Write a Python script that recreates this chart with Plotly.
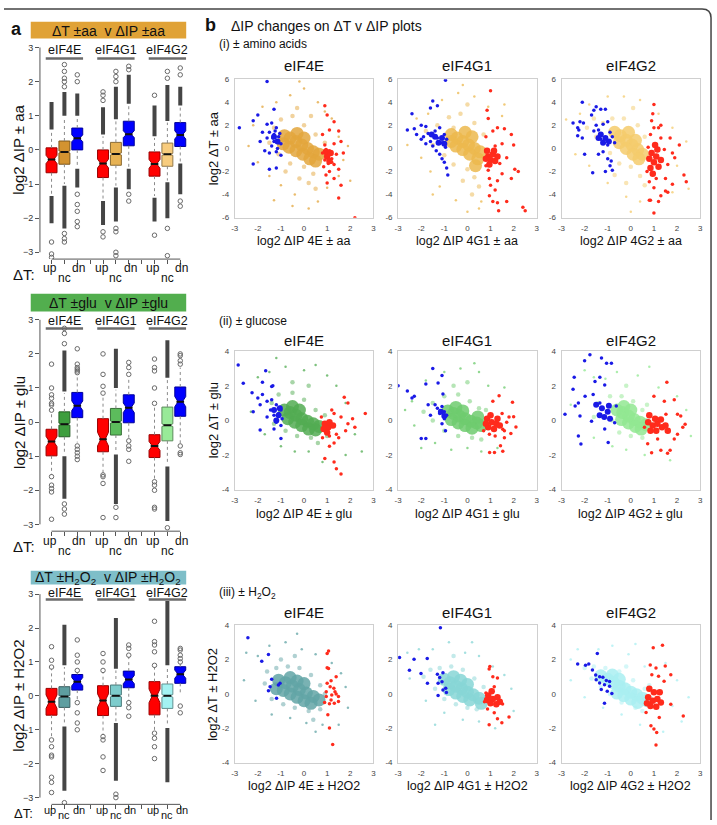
import plotly.graph_objects as go

# ------------------------------------------------------------------
# Panel a : box-plot statistics (log2 dIP), 9 boxes per condition
# order: eIF4E up,nc,dn | eIF4G1 up,nc,dn | eIF4G2 up,nc,dn
# ------------------------------------------------------------------
BOX_POS = [1, 2, 3, 5, 6, 7, 9, 10, 11]
GROUPS = ["eIF4E", "eIF4G1", "eIF4G2"]
GROUP_POS = [2, 6, 10]
Y_TICKS_A = [-3, -2, -1, 0, 1, 2, 3]

AA_Q1 = [-0.67, -0.42, 0.00, -0.81, -0.45, 0.12, -0.77, -0.48, 0.10]
AA_MED = [-0.28, -0.06, 0.34, -0.40, -0.12, 0.46, -0.41, -0.13, 0.44]
AA_Q3 = [0.06, 0.26, 0.64, 0.00, 0.22, 0.84, -0.06, 0.20, 0.80]
AA_LO = [-1.30, -1.00, -0.50, -1.45, -1.05, -0.50, -1.35, -0.90, -0.35]
AA_HI = [0.55, 0.95, 0.95, 0.40, 0.85, 1.30, 0.35, 0.80, 1.25]
AA_NOTCH = [0.12, 0.03, 0.10, 0.13, 0.03, 0.10, 0.13, 0.03, 0.12]
AA_BAND_UP = [(0.6, 1.4), (1.0, 1.7), (1.0, 1.65), (0.45, 1.25), (0.9, 1.85), (1.35, 2.2), (0.4, 1.3), (0.85, 1.9), (1.3, 1.85)]
AA_BAND_DN = [(-1.35, -2.15), (-1.05, -2.3), (-0.55, -1.1), (-1.5, -2.2), (-1.1, -2.1), (-0.55, -1.15), (-1.4, -2.1), (-0.95, -2.0), (-0.4, -1.3)]
AA_OUT = [[-2.7, -3.05, -3.15], [1.85, 2.0, 2.1, 2.3, 2.5, -2.45, -2.6, -2.7], [2.0, 2.2, -1.3, -1.6, -1.8, -2.1, -2.25],
          [1.45, 1.6, 1.7, -2.4, -2.55], [2.0, 2.15, 2.3, -2.3, -2.4, -3.0, -3.1], [2.35, 2.45, -1.3, -1.5],
          [1.6, -2.5], [2.1, 2.3, -2.3, -3.1], [2.2, 2.4, -1.5, -1.65]]

GLU_Q1 = [-0.99, -0.43, 0.13, -0.87, -0.38, -0.02, -1.04, -0.55, 0.17]
GLU_MED = [-0.57, -0.06, 0.48, -0.50, 0.00, 0.42, -0.70, -0.09, 0.60]
GLU_Q3 = [-0.21, 0.30, 0.87, 0.10, 0.40, 0.80, -0.37, 0.44, 1.03]
GLU_LO = [-1.55, -0.95, -0.60, -1.50, -0.90, -0.50, -1.70, -1.25, -0.65]
GLU_HI = [0.30, 0.85, 1.40, 0.80, 0.95, 1.25, 0.50, 1.25, 1.60]
GLU_NOTCH = [0.15, 0.03, 0.14, 0.20, 0.03, 0.14, 0.13, 0.04, 0.15]
GLU_BAND_UP = [None, (0.9, 2.1), None, None, (1.0, 2.15), None, None, (1.3, 2.4), None]
GLU_BAND_DN = [None, (-1.0, -2.25), None, None, (-0.95, -2.4), None, None, (-1.3, -2.9), None]
GLU_OUT = [[0.35, 0.5, 0.55, 0.7, 0.8, 1.0, 1.7, -1.6, -1.85, -1.95, -2.05, -2.85], [2.3, 2.6, 2.75, -2.4, -2.55, -2.7],
           [1.45, 1.5, 1.55, 1.6, 1.7, 2.15, -0.7, -0.8, -0.9, -1.0, -1.1], [0.85, 1.05, 1.4, 2.0, -1.55, -1.6, -1.8, -2.8],
           [-2.5, -2.8], [1.4, 1.6, 1.75, -0.55, -0.7, -0.8, -1.15],
           [0.55, 1.0, 1.5, 1.6, 1.85, -1.75, -1.85, -2.0, -2.5, -2.55], [-3.1], [1.7, 1.8, 1.95, 2.0, -0.7, -0.9, -0.95]]

H2_Q1 = [-0.57, -0.34, 0.17, -0.58, -0.31, 0.24, -0.56, -0.37, 0.37]
H2_MED = [-0.17, -0.02, 0.42, -0.14, 0.00, 0.48, 0.00, 0.00, 0.64]
H2_Q3 = [0.22, 0.27, 0.63, 0.30, 0.32, 0.73, 0.42, 0.35, 0.86]
H2_LO = [-1.25, -0.85, -0.15, -1.15, -0.75, -0.15, -1.05, -0.90, 0.10]
H2_HI = [0.80, 0.85, 0.70, 0.70, 0.75, 1.15, 0.85, 0.85, 0.95]
H2_NOTCH = [0.20, 0.03, 0.12, 0.20, 0.03, 0.12, 0.20, 0.04, 0.12]
H2_BAND_UP = [None, (0.9, 2.1), None, None, (0.8, 2.3), None, None, (0.9, 2.8), None]
H2_BAND_DN = [None, (-0.9, -2.8), None, None, (-0.8, -2.5), None, None, (-0.95, -2.55), None]
H2_OUT = [[0.85, 1.05, 1.45, -1.3, -1.5, -1.75, -1.8, -2.4, -2.55, -2.85], [-3.15], [0.75, 1.0, 1.2, 1.65, -0.2, -0.5, -0.8, -1.0],
          [0.75, 1.0, 1.25, -1.2, -1.3, -1.8, -2.2], [-2.9, -3.0], [1.2, 1.4, 1.5, -0.2, -0.35, -0.6],
          [0.9, 1.3, 1.5, 1.6, 2.2, -1.1, -1.25, -1.5, -1.85], [], [1.0, 1.1, 1.2, 1.35, 1.4, -0.3, -0.5]]

# ------------------------------------------------------------------
# Panel b : scatter points (x = log2 dIP, y = log2 dT), estimated
# ------------------------------------------------------------------
X_TICKS_B = [-3, -2, -1, 0, 1, 2, 3]
Y_TICKS_AA = [-6, -4, -2, 0, 2, 4, 6]
Y_TICKS_GH = [-4, -2, 0, 2, 4]

# --- amino acids ---
AA_4E_CORE = [(-0.85, 1.1), (-0.6, 0.9), (-0.35, 0.6), (-0.1, 0.3), (0.15, 0.0), (0.4, -0.3), (0.65, -0.5), (-0.65, 0.1),
              (-0.35, -0.2), (-0.05, -0.5), (-0.3, 1.3), (0.0, 0.9), (0.25, -0.9), (0.5, -1.1), (-0.9, 0.4)]
AA_4E_MID = [(-1.3, 1.8), (-1.0, 2.5), (-0.5, 2.8), (0.0, 2.0), (0.5, 1.2), (0.9, 0.5), (-1.5, 0.5), (-1.1, -0.5), (-0.6, -1.3),
             (0.0, -1.6), (0.4, -2.2), (0.2, -3.0), (0.5, -3.5), (-0.3, 3.5), (0.3, 2.8), (1.1, -1.2), (-0.8, -2.0), (-0.2, -2.6)]
AA_4E_SPARSE = [(-2.2, 2.0), (-2.0, -1.2), (-1.8, 3.6), (-1.2, 4.0), (-0.6, 4.6), (0.0, 5.2), (0.6, 4.0), (1.2, 2.6), (1.5, 1.0),
                (1.7, -1.0), (1.5, -2.4), (1.0, -3.4), (0.6, -4.6), (0.2, -5.2), (-0.4, -4.0), (-1.0, -3.2), (-1.5, -2.4),
                (-2.4, 0.2), (0.9, 3.2), (-0.2, 5.8), (1.9, 0.2), (-1.3, -4.5), (2.0, -2.8), (-0.5, -5.0)]
AA_4E_BLUE = [(-1.6, 5.8), (-2.8, 1.8), (-2.2, 2.4), (-2.0, 2.9), (-1.3, 3.4), (-1.6, 2.1), (-1.4, 2.2), (-1.2, 1.8), (-1.8, 1.4),
              (-1.5, 1.4), (-1.3, 1.2), (-1.1, 1.0), (-1.6, 0.9), (-1.3, 0.6), (-1.0, 0.4), (-1.4, 0.2), (-1.2, -0.3), (-1.1, 0.5),
              (-1.7, -0.2), (-1.5, -0.4), (-2.2, -1.35), (-1.5, -1.8), (-1.2, -1.7), (-1.0, -0.6), (-1.35, 0.9), (-1.25, 1.5),
              (-1.05, 1.3), (-1.9, 0.6), (-1.15, 0.0)]
AA_4E_BLUE_CORE = [(-1.3, 1.0), (-1.15, 0.6)]
AA_4E_RED = [(0.9, 3.7), (1.0, 2.9), (1.3, 2.3), (1.5, 1.5), (1.1, 1.6), (0.8, 1.2), (1.6, 0.6), (1.3, 0.4), (0.9, 0.3), (1.1, -0.2),
             (0.8, -0.4), (1.4, -0.5), (1.7, -0.4), (1.0, -0.7), (1.2, -0.9), (0.9, -1.0), (1.05, -1.3), (1.3, -1.4), (0.85, -1.6),
             (1.5, -1.8), (1.1, -2.0), (0.95, -2.3), (1.3, -2.6), (1.0, -3.0), (1.6, -3.2), (1.5, -4.3), (2.2, -6.0), (1.15, -0.5),
             (0.95, -0.1), (1.2, -1.2)]
AA_4E_RED_CORE = [(1.0, -0.7), (1.1, -1.1), (0.95, -0.3), (1.15, -0.4)]

AA_G1_CORE = [(-0.7, 1.2), (-0.45, 0.9), (-0.2, 0.6), (0.05, 0.3), (0.3, 0.0), (0.55, -0.3), (-0.5, 0.2), (-0.2, -0.1), (0.1, -0.5),
              (-0.1, 1.4), (0.2, 1.0), (0.45, -0.9), (-0.7, 0.6), (0.35, -1.5)]
AA_G1_MID = [(-1.3, 2.0), (-0.8, 2.7), (-0.3, 3.0), (0.3, 2.2), (0.7, 1.2), (-1.5, 0.3), (-1.0, -0.6), (-0.6, -1.4), (0.0, -1.8),
             (0.3, -2.5), (0.5, -3.3), (0.2, -4.0), (-0.2, -2.8), (0.0, 3.8), (-1.8, 1.5), (-0.6, 1.8)]
AA_G1_SPARSE = [(-2.6, 0.3), (-2.0, -0.8), (-1.7, 3.0), (-1.1, 4.2), (-0.4, 4.8), (0.3, 4.5), (0.9, 3.6), (1.5, 2.8), (0.5, -5.2),
                (0.0, -5.5), (-0.5, -4.5), (-1.2, -3.3), (-1.6, -2.0), (-0.2, 5.5), (0.6, -4.6), (-1.5, -4.0), (1.6, 3.8), (-2.2, 2.6)]
AA_G1_BLUE = [(-0.95, 5.9), (-2.4, 3.0), (-1.6, 3.5), (-1.3, 3.7), (-1.5, 4.1), (-2.6, 1.6), (-2.3, 1.7), (-2.0, 2.0), (-1.8, 1.9),
              (-2.2, 1.2), (-1.9, 1.0), (-1.7, 1.3), (-1.6, 0.6), (-1.4, 1.5), (-1.3, 0.9), (-1.2, 1.8), (-1.1, 0.5), (-1.0, 1.2),
              (-0.9, 0.8), (-1.5, 0.2), (-1.2, -0.5), (-1.0, -1.2), (-0.9, -1.7), (-1.1, -0.9), (-0.85, -2.3), (-1.35, -0.2),
              (-0.95, 0.1), (-1.8, 0.4), (-2.0, 0.8)]
AA_G1_BLUE_CORE = [(-1.4, 1.0), (-1.1, 0.9), (-1.25, 0.5), (-1.55, 1.2), (-1.0, 0.4)]
AA_G1_RED = [(1.0, 5.0), (0.85, 3.3), (0.9, 2.6), (1.3, 1.8), (1.6, 1.7), (1.9, 1.2), (1.1, 1.5), (0.8, 1.0), (2.0, 0.3), (1.5, 0.4),
             (1.7, -0.8), (2.2, -2.0), (1.9, -2.6), (2.05, -1.8), (1.5, -2.2), (1.3, -2.8), (1.0, -3.2), (1.2, -3.6), (0.95, -4.1),
             (1.1, -4.6), (1.3, -4.7), (1.35, -5.4), (2.4, -5.1), (2.5, -5.4), (1.7, -4.6), (0.9, -1.9), (1.4, -1.3), (0.8, -1.5),
             (1.2, 0.2), (0.95, -2.6)]
AA_G1_RED_CORE = [(0.9, -0.7), (1.1, -0.5), (1.0, -1.0), (1.2, -1.1), (0.85, -0.2), (1.15, -0.2), (1.3, -0.7), (0.95, -1.4), (0.8, -0.9)]

AA_G2_CORE = [(-0.7, 1.4), (-0.45, 1.1), (-0.2, 0.7), (0.05, 0.3), (0.3, -0.1), (0.5, -0.5), (-0.5, 0.5), (-0.2, 0.0), (0.1, -0.5),
              (-0.1, 1.4), (0.2, 0.7), (0.35, -0.9)]
AA_G2_MID = [(-1.6, 2.6), (-1.2, 2.2), (-0.8, 2.6), (-0.3, 2.6), (0.3, 2.0), (0.6, 1.0), (-1.5, 1.0), (-0.9, -0.4), (-0.5, -1.3),
             (0.0, -1.6), (0.4, -2.4), (0.6, -3.2), (-0.2, -3.0), (0.1, 3.5), (-1.9, 1.8), (-0.7, -2.3)]
AA_G2_SPARSE = [(-2.8, 2.5), (-2.2, 3.0), (-1.8, 3.8), (-1.0, 4.5), (-0.3, 4.5), (0.4, 4.2), (1.2, 3.0), (1.8, 1.8), (2.4, 0.6),
                (2.0, -1.5), (1.8, -3.8), (0.4, -4.6), (-0.2, -4.2), (-1.0, -3.0), (-1.8, -1.5), (-2.4, -0.5), (2.5, -3.5), (0.0, -5.5)]
AA_G2_BLUE = [(-2.1, 4.0), (-2.5, 2.2), (-2.3, 1.8), (-2.2, 2.3), (-2.05, 2.2), (-2.3, 1.1), (-2.1, 0.9), (-2.0, -0.5), (-2.25, 1.6),
              (-1.6, 3.3), (-1.5, 3.6), (-1.3, 3.4), (-1.1, 3.4), (-1.7, 2.9), (-1.5, 2.0), (-1.4, 1.6), (-1.6, 1.5), (-1.2, 2.1),
              (-1.0, 2.3), (-0.9, 1.4), (-0.8, 1.0), (-0.7, 0.5), (-1.0, 0.3), (-1.2, -0.3), (-1.4, -0.5), (-1.0, -0.9),
              (-0.85, -1.1), (-1.65, -2.1), (-1.1, -2.0), (-0.8, -1.9), (-0.9, -1.5), (-1.3, 0.8)]
AA_G2_BLUE_CORE = [(-1.3, 1.2), (-1.1, 0.9), (-1.2, 0.5), (-0.95, 0.6), (-1.4, 0.9)]
AA_G2_RED = [(1.0, 3.8), (0.95, 3.0), (0.9, 2.4), (1.3, 2.0), (1.2, 1.8), (1.0, 1.8), (0.85, 1.2), (1.3, 0.9), (1.7, 0.9), (2.1, 0.3),
             (1.8, -0.4), (1.9, -0.8), (2.3, -2.3), (2.4, -2.9), (1.8, -3.1), (1.5, -3.7), (1.3, -4.1), (1.2, -4.6), (0.85, -4.5),
             (1.0, -5.6), (0.8, -4.5), (0.7, -2.0), (1.6, -1.4), (1.5, -2.6), (1.0, -3.4), (0.8, -2.9), (1.1, -2.6), (0.75, 0.1),
             (1.45, -0.1), (1.6, -3.8)]
AA_G2_RED_CORE = [(0.9, -0.4), (1.1, -0.7), (1.0, -1.2), (1.2, -1.6), (0.85, -1.7), (1.15, -0.1), (0.95, -2.2), (1.3, -1.0),
                  (0.8, -0.9), (1.05, 0.3)]

# --- glucose ---
GLU_4E_CORE = [(-0.85, 0.6), (-0.6, 0.45), (-0.35, 0.3), (-0.1, 0.1), (0.15, -0.05), (0.4, -0.2), (0.65, -0.35), (-0.7, 0.1),
               (-0.4, -0.1), (-0.1, -0.3), (-0.5, 0.8), (-0.2, 0.6), (0.2, -0.5), (0.5, -0.55)]
GLU_4E_MID = [(-1.4, 1.0), (-1.1, 1.5), (-0.5, 1.6), (0.0, 1.2), (0.5, 0.6), (0.9, 0.3), (-1.3, -0.2), (-0.8, -0.6), (-0.3, -0.9),
              (0.3, -1.0), (0.6, -1.3), (-0.5, 2.2), (0.2, 2.0), (1.0, -0.9)]
GLU_4E_SPARSE = [(-2.0, 2.5), (-1.5, 2.8), (-0.8, 3.1), (0.0, 2.9), (0.5, 3.2), (-1.2, 3.6), (1.4, 2.0), (1.8, 1.0), (2.2, -0.8),
                 (1.8, -2.0), (0.8, -2.4), (0.2, -1.8), (-0.4, -1.8), (-1.0, -1.5), (-1.7, -0.8), (-2.3, 0.5), (1.0, 2.6), (2.5, -1.8)]
GLU_4E_BLUE = [(-2.85, 3.2), (-2.63, 2.15), (-1.66, 2.87), (-1.8, 2.2), (-1.4, 1.96), (-1.35, 2.0), (-2.25, 1.6), (-2.0, 1.3),
               (-1.8, 1.5), (-1.9, 0.9), (-2.2, 0.5), (-1.6, 1.1), (-1.4, 1.2), (-1.2, 0.9), (-1.45, 0.6), (-1.0, 0.6), (-1.3, 0.3),
               (-1.1, 0.4), (-0.95, 0.1), (-1.2, -0.1), (-1.0, -0.3), (-1.3, -0.5), (-1.9, -0.55), (-1.0, -1.05), (-1.6, 0.2)]
GLU_4E_BLUE_CORE = [(-1.1, 0.3), (-1.3, 0.6), (-1.05, 0.7), (-1.2, 0.0)]
GLU_4E_RED = [(1.74, 1.34), (1.9, 1.0), (2.65, 0.4), (1.3, 0.4), (1.6, 0.2), (2.1, 0.1), (2.2, -0.4), (1.8, -0.6), (1.4, -0.8),
              (1.1, -0.9), (1.3, -1.3), (1.1, -1.5), (0.9, -2.2), (1.3, -2.4), (1.4, -2.8), (1.6, -3.1), (0.8, -1.0), (1.5, -1.0),
              (1.9, -0.2), (0.75, 0.2), (1.2, 0.6)]
GLU_4E_RED_CORE = [(0.9, -0.2), (1.05, -0.4), (0.85, -0.5), (1.1, -0.1), (1.0, -0.7), (1.25, -0.3)]

GLU_G1_CORE = [(-0.85, 0.55), (-0.6, 0.4), (-0.35, 0.25), (-0.1, 0.1), (0.15, -0.05), (0.4, -0.15), (0.6, -0.3), (-0.7, 0.05),
               (-0.4, -0.15), (-0.1, -0.3), (-0.5, 0.75), (-0.2, 0.55), (0.2, -0.45), (0.45, 0.2)]
GLU_G1_MID = [(-1.5, 1.0), (-1.0, 1.4), (-0.4, 1.5), (0.1, 1.1), (0.5, 0.7), (-1.5, 0.0), (-1.0, -0.6), (-0.4, -0.9), (0.2, -1.0),
              (0.6, -1.1), (-0.6, 2.0), (0.0, 2.2), (-1.9, 0.5), (0.8, 0.6)]
GLU_G1_SPARSE = [(-2.4, 1.1), (-1.8, 2.3), (-1.0, 2.8), (-0.3, 3.0), (0.5, 2.8), (0.9, 2.0), (1.3, -1.6), (0.6, -1.8), (0.0, -1.6),
                 (-0.7, -1.7), (-1.4, -1.3), (-2.3, -0.3), (-2.7, 0.6), (0.3, 3.3), (-2.0, -1.6), (1.6, 1.9)]
GLU_G1_BLUE = [(-3.0, 2.0), (-2.3, 1.4), (-2.4, 1.3), (-1.27, 2.16), (-1.06, 1.53), (-1.5, 3.0), (-1.1, 2.6), (-1.8, 2.1),
               (-1.4, 0.9), (-1.3, 0.7), (-1.1, 0.8), (-1.0, 0.5), (-1.2, 0.4), (-0.9, 0.3), (-1.0, 0.1), (-1.1, -0.2),
               (-0.95, -0.6), (-1.6, 0.3), (-2.0, -1.05), (-1.8, -1.05), (-1.7, 0.9), (-2.6, 1.7)]
GLU_G1_BLUE_CORE = [(-1.15, 0.5), (-1.0, 0.25)]
GLU_G1_RED = [(1.37, 1.43), (1.1, 1.1), (1.95, 1.05), (2.0, 0.21), (2.1, -0.38), (1.53, -0.51), (1.43, -1.47), (0.96, -1.85),
              (1.17, -1.85), (1.53, -1.78), (1.6, -1.0), (1.88, -0.75), (0.7, -0.6), (1.5, 0.4), (1.7, -0.1), (1.6, -0.6),
              (1.2, -0.9), (0.95, -0.8), (1.8, 0.2)]
GLU_G1_RED_CORE = [(0.85, 0.1), (1.05, -0.1), (1.25, -0.2), (0.9, -0.4), (1.15, -0.5), (1.4, -0.3), (1.0, 0.3), (0.8, -0.2), (1.3, 0.1)]

GLU_G2_CORE = [(-0.6, 0.6), (-0.35, 0.45), (-0.1, 0.25), (0.15, 0.05), (0.4, -0.1), (0.65, -0.25), (-0.4, 0.05), (-0.1, -0.15),
               (0.2, -0.35), (-0.3, 0.8), (0.0, 0.6), (0.45, -0.5)]
GLU_G2_MID = [(-1.4, 1.0), (-0.9, 1.4), (-0.4, 1.4), (0.1, 1.1), (0.5, 0.6), (-0.8, 0.0), (-0.5, -0.7), (0.0, -0.9), (0.5, -1.0),
              (-0.2, 2.0), (0.7, 0.9), (-1.6, 0.2)]
GLU_G2_SPARSE = [(-2.0, 2.9), (-1.1, 2.4), (-0.6, 2.8), (0.3, 2.6), (1.2, 1.9), (2.0, 1.4), (2.4, 0.6), (2.6, -0.9), (1.7, -2.3),
                 (0.6, -2.0), (-0.2, -1.7), (-0.8, -1.5), (-1.6, -1.0), (-2.6, 0.9), (0.8, 3.1), (-1.6, 2.5)]
GLU_G2_BLUE = [(-1.77, 3.8), (-2.0, 3.45), (-1.27, 3.6), (-1.05, 3.3), (-0.84, 3.3), (-2.45, 2.5), (-2.5, 1.8), (-1.55, 2.25),
               (-1.34, 2.5), (-1.13, 2.04), (-1.63, 1.49), (-2.27, 1.01), (-2.41, 0.83), (-2.85, 0.35), (-2.2, 0.25), (-1.7, -0.05),
               (-2.27, -0.9), (-2.16, -1.37), (-0.98, -1.27), (-1.13, -0.5), (-1.34, 1.0), (-1.98, 1.4), (-0.63, 0.83), (-0.7, -0.14)]
GLU_G2_BLUE_CORE = [(-1.25, 0.7), (-1.0, 0.5), (-1.15, 0.2), (-0.9, 0.1), (-1.35, 0.3), (-0.95, 0.85), (-1.5, 0.9)]
GLU_G2_RED = [(1.56, 2.2), (1.0, 1.4), (1.88, 1.2), (1.45, 1.1), (2.02, 0.35), (2.16, 0.25), (2.35, -0.22), (2.25, -0.4), (1.7, -1.73),
              (1.59, -1.9), (1.3, -1.73), (0.9, -1.87), (0.73, -1.35), (1.16, -1.08), (1.88, -1.08), (0.59, -0.4), (2.02, -0.8),
              (1.52, 0.35)]
GLU_G2_RED_CORE = [(0.75, -0.1), (0.95, -0.3), (1.15, -0.2), (1.35, -0.4), (0.85, -0.6), (1.1, -0.6), (1.5, -0.3), (1.05, 0.1),
                   (0.8, 0.3), (1.6, -0.6), (1.3, 0.05)]

# --- H2O2 ---
H2_4E_CORE = [(-1.1, 0.8), (-0.8, 0.65), (-0.5, 0.45), (-0.2, 0.25), (0.1, 0.05), (0.4, -0.15), (0.65, -0.35), (-0.9, 0.2),
              (-0.6, 0.0), (-0.3, -0.2), (0.0, -0.4), (0.3, -0.55), (-0.6, 0.95), (-0.3, 0.75), (0.0, 0.6), (-1.2, 0.3)]
H2_4E_MID = [(-1.6, 1.3), (-1.2, 1.5), (-0.7, 1.6), (-0.2, 1.5), (0.3, 1.1), (0.7, 0.5), (0.9, 0.0), (-1.4, -0.3), (-0.9, -0.6),
             (-0.4, -0.8), (0.2, -1.0), (0.7, -0.9), (-0.4, 2.2), (-1.0, 2.0), (0.4, -1.5), (-1.7, 0.6)]
H2_4E_SPARSE = [(-2.5, 2.4), (-2.0, 2.2), (-1.5, 2.8), (-0.8, 3.0), (-0.1, 2.6), (0.5, 2.3), (1.2, 1.8), (1.6, 1.2), (1.8, 0.4),
                (1.9, -0.8), (1.5, -1.8), (0.8, -1.8), (0.1, -1.7), (-0.6, -1.4), (-1.4, -1.2), (-2.1, -0.4), (-2.6, 0.8), (-0.3, 3.5),
                (0.5, -2.2)]
H2_4E_BLUE = [(-2.43, 3.27), (-1.54, 2.29), (-1.83, 1.9), (-1.4, 0.85), (-1.47, 0.42), (-1.54, 0.19), (-1.04, 0.62), (-1.11, 0.52),
              (-1.19, -0.25)]
H2_4E_BLUE_CORE = []
H2_4E_RED = [(1.06, 2.5), (1.0, 2.35), (1.0, 1.52), (1.06, 1.48), (1.39, 1.0), (1.17, 0.77), (1.13, 0.42), (1.29, 0.33), (0.96, 0.13),
             (1.39, 0.0), (1.49, -0.15), (1.2, -0.06), (0.89, -0.5), (1.1, -0.58), (1.31, -0.54), (1.49, -0.44), (1.03, -1.21),
             (1.1, -1.98), (1.24, -2.94), (0.96, -0.15), (1.17, -0.35), (1.34, 0.13), (1.0, 0.62)]
H2_4E_RED_CORE = []

H2_G1_CORE = [(-1.0, 0.85), (-0.75, 0.65), (-0.5, 0.45), (-0.25, 0.3), (0.0, 0.1), (0.25, -0.05), (0.5, -0.25), (-0.8, 0.25),
              (-0.5, 0.05), (-0.2, -0.15), (0.1, -0.35), (-0.6, 1.0), (-0.3, 0.8), (0.0, 0.55), (0.6, -0.55)]
H2_G1_MID = [(-1.6, 1.4), (-1.2, 1.5), (-0.7, 1.6), (-0.2, 1.4), (0.3, 0.9), (0.7, 0.4), (-1.4, 0.3), (-1.0, -0.3), (-0.5, -0.6),
             (0.0, -0.8), (0.4, -0.9), (-0.6, 2.2), (-1.9, 1.0), (0.8, -0.2)]
H2_G1_SPARSE = [(-2.6, 2.4), (-2.1, 2.6), (-1.5, 2.6), (-0.8, 3.0), (-0.1, 2.4), (0.5, 2.2), (1.1, 1.6), (1.6, 1.1), (1.9, 0.3),
                (2.0, -1.0), (1.2, -2.0), (0.5, -1.6), (-0.2, -1.5), (-1.0, -1.1), (-1.8, -0.4), (-2.5, 0.9), (0.2, 3.0), (-1.4, -1.8)]
H2_G1_BLUE = [(-2.94, 2.12), (-2.31, 2.02), (-2.51, 1.38), (-2.01, 1.19), (-1.74, 2.06), (-1.73, 0.62), (-1.17, 3.85), (-1.3, 1.15),
              (-1.06, 1.23), (-1.2, 0.96), (-1.1, 0.71), (-1.27, 0.62), (-0.94, 0.33), (-0.91, 0.08), (-1.27, -0.1), (-1.06, 0.23)]
H2_G1_BLUE_CORE = []
H2_G1_RED = [(0.97, 1.6), (0.94, 1.45), (1.1, 1.0), (1.3, 0.93), (1.16, 0.42), (0.8, 0.05), (0.74, -0.46), (1.8, -1.35), (1.3, -1.45),
             (1.49, -1.68), (0.94, -1.79), (1.16, -1.1), (1.52, -0.59), (0.87, -0.88)]
H2_G1_RED_CORE = [(0.9, -0.1), (1.1, -0.3), (1.3, -0.2), (1.0, -0.55), (1.25, -0.6), (1.4, -0.45), (1.05, 0.15), (0.85, -0.35)]

H2_G2_CORE = [(-1.3, 1.05), (-1.0, 0.85), (-0.75, 0.65), (-0.5, 0.45), (-0.25, 0.3), (0.0, 0.1), (0.25, -0.05), (0.5, -0.25),
              (0.7, -0.4), (-0.6, 0.05), (-0.3, -0.1), (0.0, -0.3), (-0.8, 1.1), (-0.5, 0.85), (0.3, -0.5)]
H2_G2_MID = [(-2.0, 1.5), (-1.6, 1.6), (-1.1, 1.5), (-0.5, 1.3), (0.1, 0.8), (0.6, 0.3), (-1.3, 0.4), (-0.9, 0.0), (-0.4, -0.5),
             (0.2, -0.8), (0.5, -1.0), (-0.2, 1.6), (-1.7, 0.9), (0.8, 0.5)]
H2_G2_SPARSE = [(-2.6, 2.0), (-2.3, 2.6), (-1.4, 2.6), (-0.8, 2.8), (-0.1, 2.3), (0.6, 1.6), (1.5, 1.8), (2.0, 0.8), (2.5, -0.2),
                (2.2, -1.6), (1.4, -2.2), (0.4, -1.8), (-0.4, -1.2), (-1.2, -0.8), (-2.0, -0.2), (-2.6, 0.8), (0.2, 2.9), (1.8, -0.7)]
H2_G2_BLUE = [(-2.3, 1.74), (-1.96, 1.66), (-1.82, 1.74), (-1.45, 2.35), (-1.66, 1.39), (-1.52, 1.1), (-1.35, 1.0), (-1.21, 0.97),
              (-1.06, 0.78), (-0.92, 0.72), (-1.35, 0.63), (-1.14, 0.53), (-1.5, 0.82), (-1.28, 0.25), (-1.02, 0.15), (-0.82, 0.02),
              (-1.14, -0.55), (-0.92, 0.44)]
H2_G2_BLUE_CORE = []
H2_G2_RED = [(1.37, 2.83), (0.97, 2.68), (0.84, 1.68), (1.49, 1.63), (1.09, 1.5), (0.91, 1.12), (1.2, 1.03), (1.73, 1.12), (1.44, 0.74),
             (2.27, -1.28), (1.73, -0.61), (0.87, -1.86), (1.0, -2.05), (1.12, -2.24), (1.09, -2.97), (0.66, -1.09), (1.23, -1.38)]
H2_G2_RED_CORE = [(0.75, -0.2), (0.95, -0.4), (1.15, -0.3), (0.85, -0.7), (1.1, -0.75), (1.3, -0.5), (1.0, 0.1), (0.8, 0.3),
                  (1.25, 0.1), (0.7, -0.55)]

# ------------------------------------------------------------------
# Styling / layout helpers
# ------------------------------------------------------------------
W, H = 717, 825
FONT = "Liberation Sans, Arial, sans-serif"
RED, BLUE = "#FF0000", "#0000FF"
PT_RED, PT_BLUE = "#FF2B1C", "#1A1AE6"


def fx(p):
    return p / W


def fy(p):
    return 1 - p / H


def darken(c, f=0.6):
    r, g, b = int(c[1:3], 16), int(c[3:5], 16), int(c[5:7], 16)
    return "#%02x%02x%02x" % (int(r * f), int(g * f), int(b * f))


def rgba(c, a):
    r, g, b = int(c[1:3], 16), int(c[3:5], 16), int(c[5:7], 16)
    return "rgba(%d,%d,%d,%.2f)" % (r, g, b, a)


def ref(prefix, i):
    return prefix if i == 1 else f"{prefix}{i}"


fig = go.Figure()
layout = {}
shapes = []
annos = []


def ann(text, x, y, size, xref="paper", yref="paper", xanchor="center", yanchor="middle", angle=0, bold=False, color="#111"):
    annos.append(dict(text=f"<b>{text}</b>" if bold else text, x=x, y=y, xref=xref, yref=yref, xanchor=xanchor,
                      yanchor=yanchor, textangle=angle, showarrow=False, font=dict(size=size, color=color, family=FONT)))


# ------------------------------------------------------------------
# Panel a
# ------------------------------------------------------------------
BOX_SETS = [
    dict(q1=AA_Q1, med=AA_MED, q3=AA_Q3, lo=AA_LO, hi=AA_HI, notch=AA_NOTCH, bu=AA_BAND_UP, bd=AA_BAND_DN, out=AA_OUT,
         mids=["#D39330", "#E7B253", "#F8CC7E"], head="#E0A236",
         head_text="ΔT ±aa\u00a0\u00a0v ΔIP ±aa", ylab="log2 ΔIP ± aa",
         top=37.1, bot=257.9, head_y=(18, 35), lab_y=47, ul_y=55, lbl=(267, 277, 273, 12)),
    dict(q1=GLU_Q1, med=GLU_MED, q3=GLU_Q3, lo=GLU_LO, hi=GLU_HI, notch=GLU_NOTCH, bu=GLU_BAND_UP, bd=GLU_BAND_DN, out=GLU_OUT,
         mids=["#3E9E3E", "#5CBC5C", "#98EA98"], head="#52AE4E",
         head_text="ΔT ±glu\u00a0\u00a0v ΔIP ±glu", ylab="log2 ΔIP ± glu",
         top=312.4, bot=533.0, head_y=(293, 311), lab_y=320, ul_y=328, lbl=(543, 553, 548, 12)),
    dict(q1=H2_Q1, med=H2_MED, q3=H2_Q3, lo=H2_LO, hi=H2_HI, notch=H2_NOTCH, bu=H2_BAND_UP, bd=H2_BAND_DN, out=H2_OUT,
         mids=["#5E9EA0", "#7DCCCC", "#A3F2F2"], head="#7EBEC8",
         head_text="ΔT ±H<sub>2</sub>O<sub>2</sub>\u00a0\u00a0v ΔIP ±H<sub>2</sub>O<sub>2</sub>", ylab="log2 ΔIP ± H2O2",
         top=589.8, bot=809.2, head_y=(573, 587), lab_y=595, ul_y=602, lbl=(814.5, 819.5, 818, 11)),
]

BOX_W = 0.85
NOTCH_W = 0.3

for i, s in enumerate(BOX_SETS, start=1):
    xa, ya = ref("x", i), ref("y", i)
    layout[ref("xaxis", i)] = dict(domain=[fx(36.3), fx(189.7)], range=[0.1, 11.9], anchor=ya, tickvals=list(range(1, 12)),
                                   ticks="outside", ticklen=4, tickcolor="#555", showticklabels=False, showgrid=False,
                                   zeroline=False, showline=False, fixedrange=True)
    layout[ref("yaxis", i)] = dict(domain=[fy(s["bot"]), fy(s["top"])], range=[-3.2, 3.2], anchor=xa, tickvals=Y_TICKS_A,
                                   ticks="outside", ticklen=4, tickcolor="#555", tickfont=dict(size=9, color="#333", family=FONT),
                                   showgrid=False, zeroline=False, showline=False, fixedrange=True)
    # axis lines (R style: span only the tick range)
    shapes.append(dict(type="line", xref=f"{xa} domain", x0=0, x1=0, yref=ya, y0=Y_TICKS_A[0], y1=Y_TICKS_A[-1],
                       line=dict(color="#555", width=1)))
    shapes.append(dict(type="line", xref=xa, x0=1, x1=11, yref=f"{ya} domain", y0=0, y1=0, line=dict(color="#555", width=1)))
    # header bar
    shapes.append(dict(type="rect", xref="paper", yref="paper", x0=fx(27), x1=fx(184), y0=fy(s["head_y"][1]), y1=fy(s["head_y"][0]),
                       fillcolor=s["head"], line=dict(width=0), layer="below"))
    ann(s["head_text"], fx(105.5), fy((s["head_y"][0] + s["head_y"][1]) / 2 + 0.5), 14)
    ann(s["ylab"], fx(15), fy((s["top"] + s["bot"]) / 2), 15, angle=-90)
    for g, gp in zip(GROUPS, GROUP_POS):
        ann(g, gp, fy(s["lab_y"]), 12.5, xref=xa)
        shapes.append(dict(type="line", xref=xa, x0=gp - 1.45, x1=gp + 1.45, yref="paper", y0=fy(s["ul_y"]), y1=fy(s["ul_y"]),
                           line=dict(color="#6b6b6b", width=2.5)))
    # bottom labels
    up_y, nc_y, dt_y, lsz = s["lbl"]
    ann("ΔT:", fx(20), fy(dt_y), 15 if lsz == 12 else 13)
    for k in range(3):
        ann("up", BOX_POS[3 * k] - 0.1, fy(up_y), lsz, xref=xa)
        ann("nc", BOX_POS[3 * k + 1], fy(nc_y), lsz, xref=xa)
        ann("dn", BOX_POS[3 * k + 2] + 0.1, fy(up_y), lsz, xref=xa)

    for j, pos in enumerate(BOX_POS):
        kind = j % 3
        fill = RED if kind == 0 else (BLUE if kind == 2 else s["mids"][j // 3])
        edge = darken(fill, 0.6)
        # dotted whiskers
        fig.add_trace(go.Scatter(x=[pos, pos, None, pos, pos], y=[s["q3"][j], s["hi"][j], None, s["q1"][j], s["lo"][j]],
                                 mode="lines", line=dict(color="#8a8a8a", width=1, dash="dot"), xaxis=xa, yaxis=ya,
                                 hoverinfo="skip", showlegend=False))
        # dense outlier columns
        for band in (s["bu"][j], s["bd"][j]):
            if band is not None:
                fig.add_trace(go.Scatter(x=[pos, pos], y=list(band), mode="lines", line=dict(color="#454545", width=4),
                                         xaxis=xa, yaxis=ya, hoverinfo="skip", showlegend=False))
        # sparse outliers
        if s["out"][j]:
            fig.add_trace(go.Scatter(x=[pos] * len(s["out"][j]), y=s["out"][j], mode="markers",
                                     marker=dict(symbol="circle-open", size=4.5, color="#6a6a6a", line=dict(width=1)),
                                     xaxis=xa, yaxis=ya, hoverinfo="skip", showlegend=False))
        # the box itself
        fig.add_trace(go.Box(x=[pos], q1=[s["q1"][j]], median=[s["med"][j]], q3=[s["q3"][j]], lowerfence=[s["q1"][j]],
                             upperfence=[s["q3"][j]], notched=True, notchspan=[s["notch"][j]], notchwidth=NOTCH_W,
                             width=BOX_W, fillcolor=fill, line=dict(color=edge, width=1), boxpoints=False,
                             whiskerwidth=0, xaxis=xa, yaxis=ya, hoverinfo="skip", showlegend=False))
        hw = BOX_W / 2 * (1 - NOTCH_W)
        fig.add_trace(go.Scatter(x=[pos - hw, pos + hw], y=[s["med"][j]] * 2, mode="lines",
                                 line=dict(color="#111", width=2), xaxis=xa, yaxis=ya, hoverinfo="skip", showlegend=False))

ann("a", fx(13), fy(25), 18, bold=True)

# ------------------------------------------------------------------
# Panel b
# ------------------------------------------------------------------
COL_LEFT = [233, 398, 563]
PANEL_W = 140
ROWS = [
    dict(top=76, bot=216, yr=[-6, 6], yt=Y_TICKS_AA, title_y=62, xlab_y=240, suffix="aa", ylab="log2 ΔT ± aa",
         clouds=["#E3A63C", "#ECB84E", "#F4CB6C"],
         data=[(AA_4E_SPARSE, AA_4E_MID, AA_4E_CORE, AA_4E_BLUE, AA_4E_BLUE_CORE, AA_4E_RED, AA_4E_RED_CORE),
               (AA_G1_SPARSE, AA_G1_MID, AA_G1_CORE, AA_G1_BLUE, AA_G1_BLUE_CORE, AA_G1_RED, AA_G1_RED_CORE),
               (AA_G2_SPARSE, AA_G2_MID, AA_G2_CORE, AA_G2_BLUE, AA_G2_BLUE_CORE, AA_G2_RED, AA_G2_RED_CORE)]),
    dict(top=351, bot=491, yr=[-4, 4], yt=Y_TICKS_GH, title_y=340, xlab_y=516, suffix="glu", ylab="log2 ΔT ± glu",
         clouds=["#52AC52", "#6ECB6E", "#92E892"],
         data=[(GLU_4E_SPARSE, GLU_4E_MID, GLU_4E_CORE, GLU_4E_BLUE, GLU_4E_BLUE_CORE, GLU_4E_RED, GLU_4E_RED_CORE),
               (GLU_G1_SPARSE, GLU_G1_MID, GLU_G1_CORE, GLU_G1_BLUE, GLU_G1_BLUE_CORE, GLU_G1_RED, GLU_G1_RED_CORE),
               (GLU_G2_SPARSE, GLU_G2_MID, GLU_G2_CORE, GLU_G2_BLUE, GLU_G2_BLUE_CORE, GLU_G2_RED, GLU_G2_RED_CORE)]),
    dict(top=628, bot=767, yr=[-4, 4], yt=Y_TICKS_GH, title_y=615, xlab_y=791, suffix="H2O2", ylab="log2 ΔT ± H2O2",
         clouds=["#62A4A6", "#87D6D6", "#A9EFF1"],
         data=[(H2_4E_SPARSE, H2_4E_MID, H2_4E_CORE, H2_4E_BLUE, H2_4E_BLUE_CORE, H2_4E_RED, H2_4E_RED_CORE),
               (H2_G1_SPARSE, H2_G1_MID, H2_G1_CORE, H2_G1_BLUE, H2_G1_BLUE_CORE, H2_G1_RED, H2_G1_RED_CORE),
               (H2_G2_SPARSE, H2_G2_MID, H2_G2_CORE, H2_G2_BLUE, H2_G2_BLUE_CORE, H2_G2_RED, H2_G2_RED_CORE)]),
]
SHORT = ["4E", "4G1", "4G2"]


def pts(lst):
    return [p[0] for p in lst], [p[1] for p in lst]


idx = 4
for r in ROWS:
    for c in range(3):
        xa, ya = ref("x", idx), ref("y", idx)
        left = COL_LEFT[c]
        common = dict(showline=True, mirror=True, linecolor="#CFCFCF", linewidth=1, ticks="", showgrid=False, zeroline=False,
                      tickfont=dict(size=8, color="#444", family=FONT), ticklabelstandoff=3, fixedrange=True)
        layout[ref("xaxis", idx)] = dict(domain=[fx(left), fx(left + PANEL_W)], range=[-3, 3], anchor=ya, tickvals=X_TICKS_B,
                                         ticktext=[str(v) for v in X_TICKS_B], **common)
        layout[ref("yaxis", idx)] = dict(domain=[fy(r["bot"]), fy(r["top"])], range=r["yr"], anchor=xa, tickvals=r["yt"],
                                         ticktext=[str(v) for v in r["yt"]], **common)
        sparse, mid, core, blue, blue_core, red, red_core = r["data"][c]
        cc = r["clouds"][c]
        layers = [
            (sparse, dict(size=2.5, color=rgba(cc, 0.75))),
            (mid, dict(size=4.5, color=rgba(cc, 0.5))),
            (core, dict(size=13, color=rgba(cc, 0.85))),
            (blue, dict(size=3.5, color=PT_BLUE)),
            (blue_core, dict(size=6, color=PT_BLUE)),
            (red, dict(size=3.5, color=PT_RED)),
            (red_core, dict(size=6.5, color=PT_RED)),
        ]
        for data, mk in layers:
            if data:
                xs, ys = pts(data)
                fig.add_trace(go.Scatter(x=xs, y=ys, mode="markers", marker=dict(line=dict(width=0), **mk),
                                         xaxis=xa, yaxis=ya, hoverinfo="skip", showlegend=False))
        cx = left + PANEL_W / 2
        ann(GROUPS[c], fx(cx), fy(r["title_y"]), 15)
        ann(f"log2 ΔIP {SHORT[c]} ± {r['suffix']}", fx(cx), fy(r["xlab_y"]), 12.5)
        if c == 0:
            ann(r["ylab"], fx(211), fy((r["top"] + r["bot"]) / 2), 13, angle=-90)
        idx += 1

ann("b", fx(208.5), fy(21), 18, bold=True)
ann("ΔIP changes on ΔT v ΔIP plots", fx(227), fy(22), 14, xanchor="left")
ann("(i) ± amino acids", fx(215), fy(40), 12, xanchor="left")
ann("(ii) ± glucose", fx(215), fy(320), 12, xanchor="left")
ann("(iii) ± H<sub>2</sub>O<sub>2</sub>", fx(215), fy(596), 12, xanchor="left")

# outer frame (top edge + rounded top-right corner + right edge)
frame = f"M {fx(0)},{fy(5)} L {fx(705)},{fy(5)} Q {fx(714)},{fy(5)} {fx(714)},{fy(14)} L {fx(714)},{fy(825)}"
shapes.append(dict(type="path", xref="paper", yref="paper", path=frame, line=dict(color="#444", width=1.5)))

fig.update_layout(width=W, height=H, margin=dict(l=0, r=0, t=0, b=0), paper_bgcolor="white", plot_bgcolor="white",
                  font=dict(family=FONT, color="#111"), showlegend=False, shapes=shapes, annotations=annos, **layout)
fig.write_html("out.html")
